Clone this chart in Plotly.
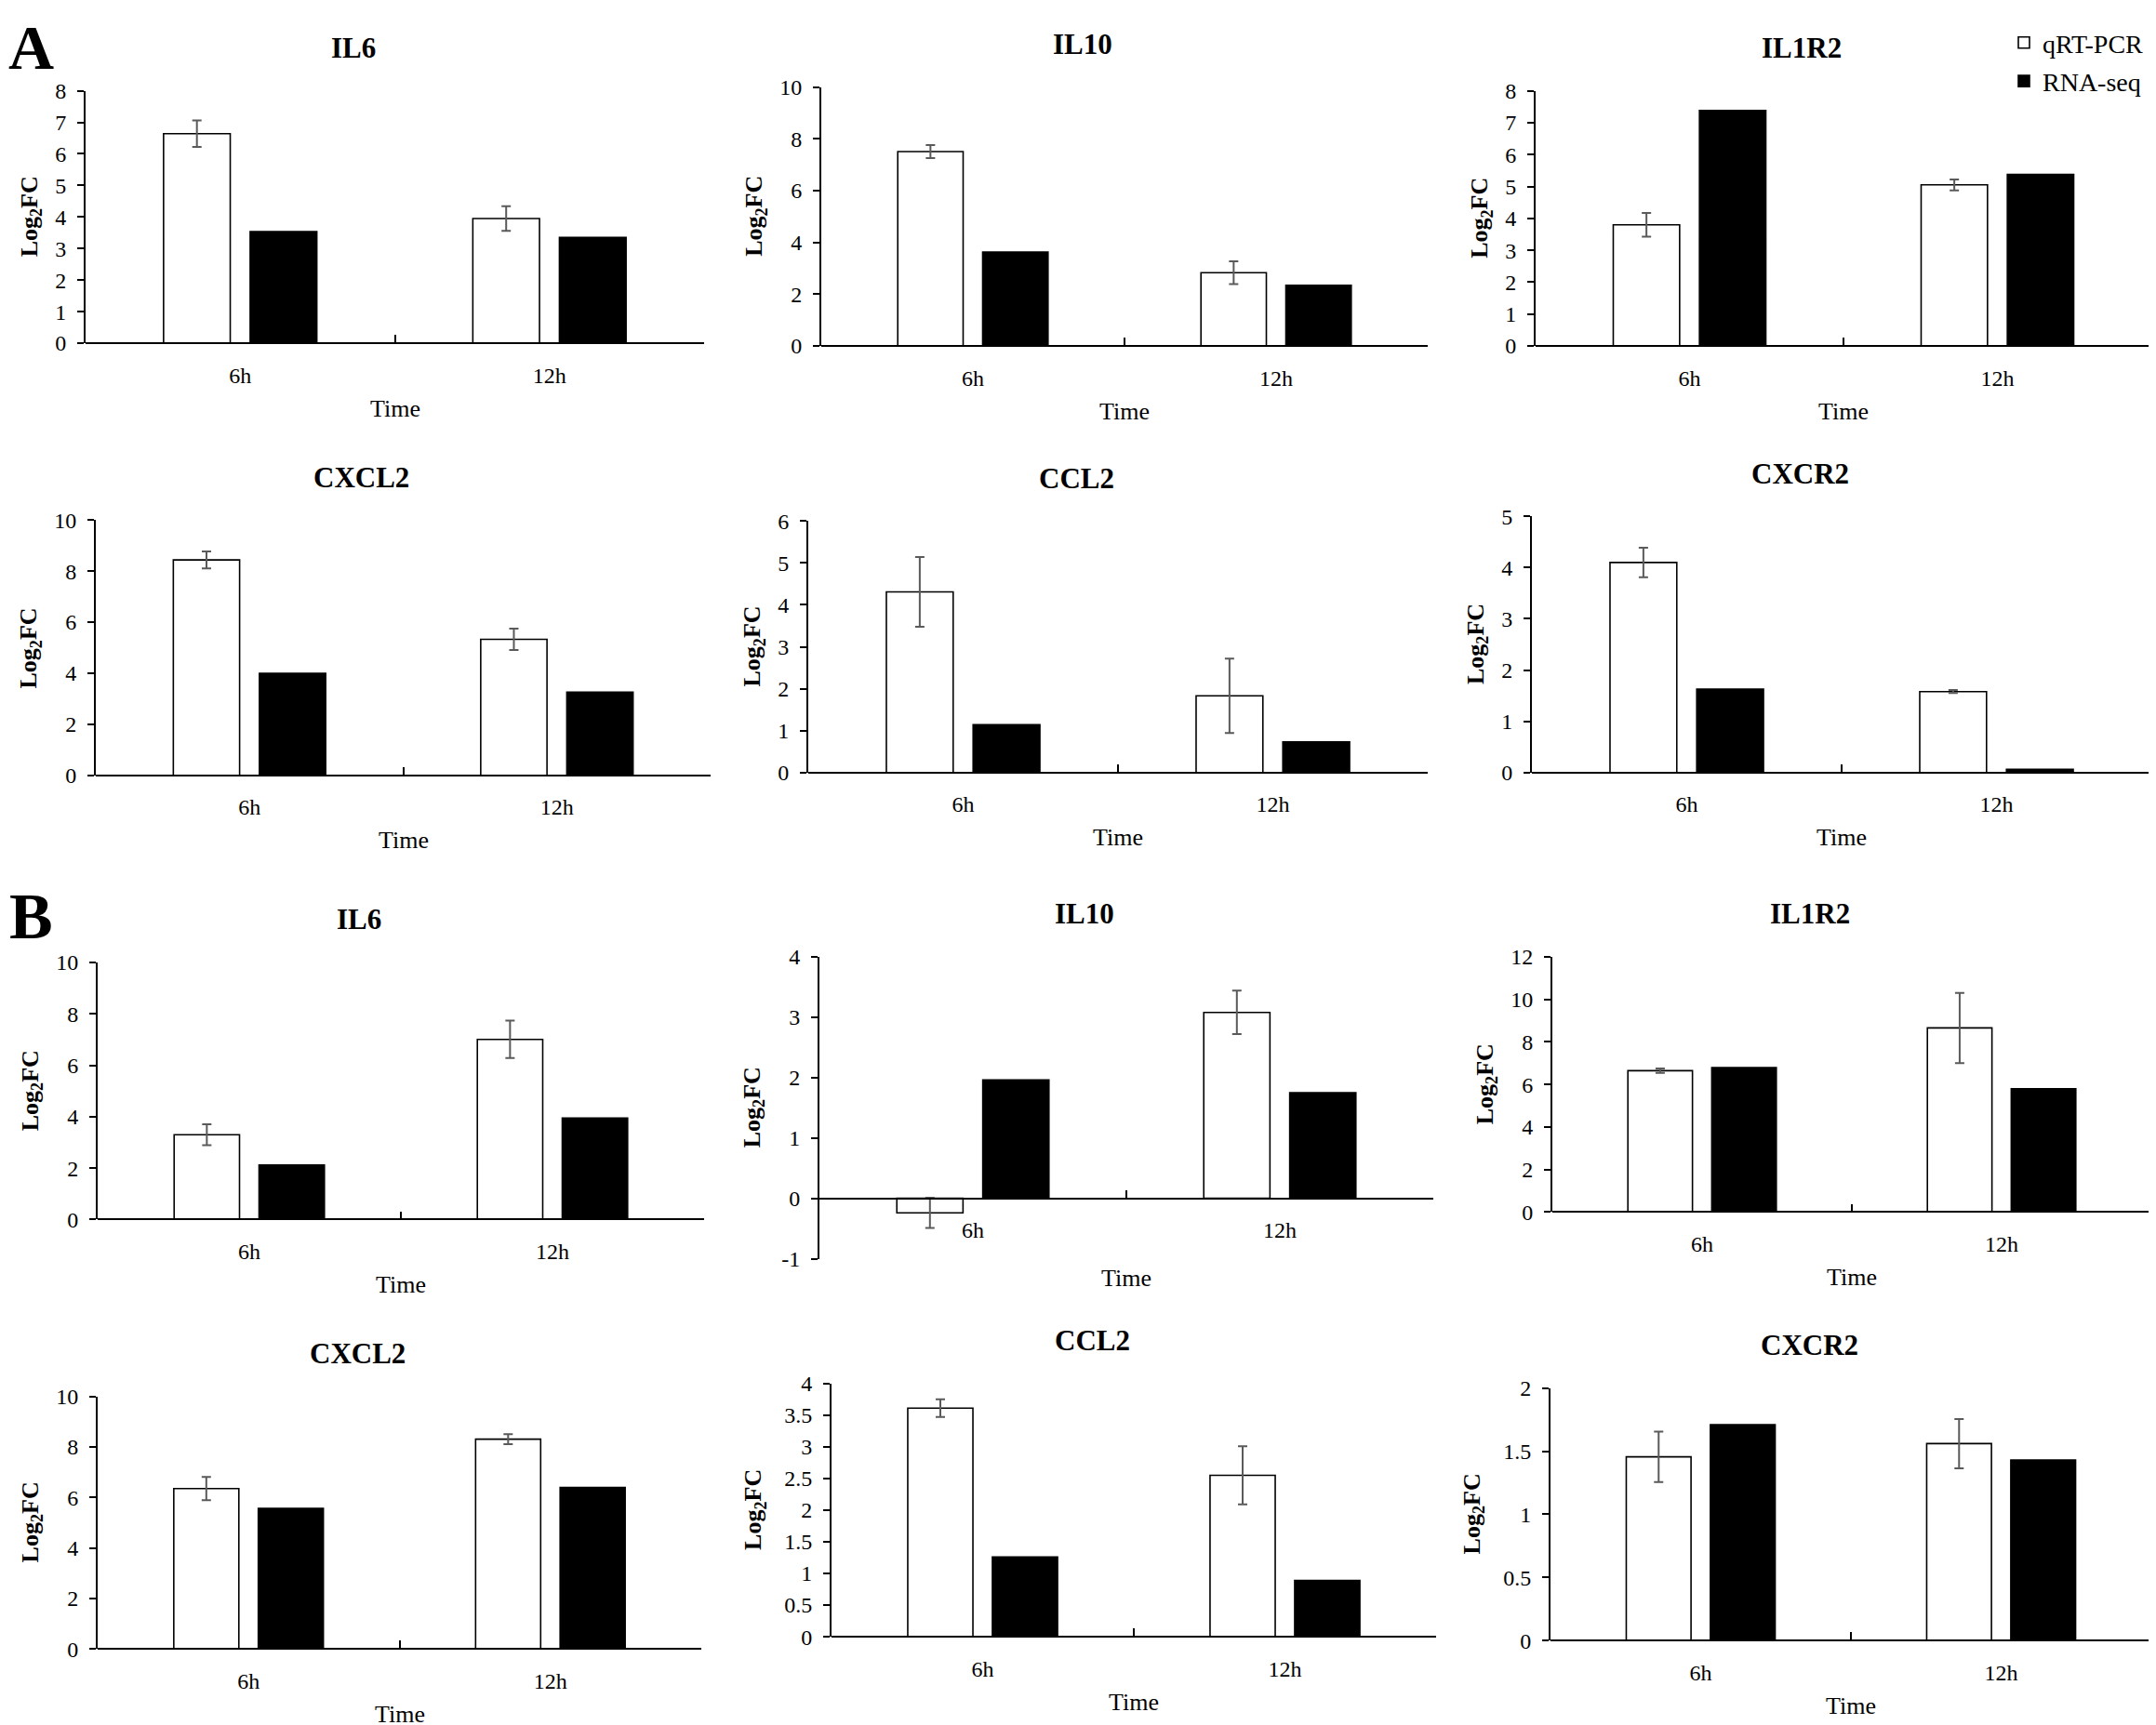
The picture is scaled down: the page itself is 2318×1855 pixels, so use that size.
import plotly.graph_objects as go

W, H = 2318, 1855
FONT = "Liberation Serif"

times = ["6h", "12h"]
series_names = ["qRT-PCR", "RNA-seq"]

# ---- Panel A ----
a_il6_qpcr = [6.64, 3.95]
a_il6_err = [0.42, 0.39]
a_il6_rnaseq = [3.54, 3.35]
a_il6_yticks = [0, 1, 2, 3, 4, 5, 6, 7, 8]

a_il10_qpcr = [7.51, 2.83]
a_il10_err = [0.25, 0.44]
a_il10_rnaseq = [3.63, 2.34]
a_il10_yticks = [0, 2, 4, 6, 8, 10]

a_il1r2_qpcr = [3.80, 5.05]
a_il1r2_err = [0.37, 0.17]
a_il1r2_rnaseq = [7.38, 5.38]
a_il1r2_yticks = [0, 1, 2, 3, 4, 5, 6, 7, 8]

a_cxcl2_qpcr = [8.44, 5.33]
a_cxcl2_err = [0.33, 0.42]
a_cxcl2_rnaseq = [4.00, 3.26]
a_cxcl2_yticks = [0, 2, 4, 6, 8, 10]

a_ccl2_qpcr = [4.31, 1.83]
a_ccl2_err = [0.83, 0.89]
a_ccl2_rnaseq = [1.14, 0.73]
a_ccl2_yticks = [0, 1, 2, 3, 4, 5, 6]

a_cxcr2_qpcr = [4.10, 1.58]
a_cxcr2_err = [0.29, 0.03]
a_cxcr2_rnaseq = [1.63, 0.06]
a_cxcr2_yticks = [0, 1, 2, 3, 4, 5]

# ---- Panel B ----
b_il6_qpcr = [3.30, 7.01]
b_il6_err = [0.41, 0.73]
b_il6_rnaseq = [2.12, 3.95]
b_il6_yticks = [0, 2, 4, 6, 8, 10]

b_il10_qpcr = [-0.24, 3.08]
b_il10_err = [0.25, 0.36]
b_il10_rnaseq = [1.96, 1.75]
b_il10_yticks = [-1, 0, 1, 2, 3, 4]

b_il1r2_qpcr = [6.65, 8.66]
b_il1r2_err = [0.10, 1.65]
b_il1r2_rnaseq = [6.79, 5.80]
b_il1r2_yticks = [0, 2, 4, 6, 8, 10, 12]

b_cxcl2_qpcr = [6.35, 8.31]
b_cxcl2_err = [0.46, 0.20]
b_cxcl2_rnaseq = [5.57, 6.40]
b_cxcl2_yticks = [0, 2, 4, 6, 8, 10]

b_ccl2_qpcr = [3.61, 2.55]
b_ccl2_err = [0.14, 0.46]
b_ccl2_rnaseq = [1.26, 0.89]
b_ccl2_yticks = [0, 0.5, 1, 1.5, 2, 2.5, 3, 3.5, 4]

b_cxcr2_qpcr = [1.455, 1.56]
b_cxcr2_err = [0.20, 0.195]
b_cxcr2_rnaseq = [1.71, 1.43]
b_cxcr2_yticks = [0, 0.5, 1, 1.5, 2]


def Y(p):
    # pixel correction for the vertical placement
    return (p - 21.5) / 0.9845


# layout boxes in pixels: (axis left, axis right, plot top, plot bottom)
panels = [
    ("IL6", a_il6_qpcr, a_il6_err, a_il6_rnaseq, a_il6_yticks, (84, 749, 98, 369)),
    ("IL10", a_il10_qpcr, a_il10_err, a_il10_rnaseq, a_il10_yticks, (875, 1527, 94, 372)),
    ("IL1R2", a_il1r2_qpcr, a_il1r2_err, a_il1r2_rnaseq, a_il1r2_yticks, (1643, 2305, 98, 372)),
    ("CXCL2", a_cxcl2_qpcr, a_cxcl2_err, a_cxcl2_rnaseq, a_cxcl2_yticks, (95, 756, 559, 833)),
    ("CCL2", a_ccl2_qpcr, a_ccl2_err, a_ccl2_rnaseq, a_ccl2_yticks, (861, 1527, 560, 830)),
    ("CXCR2", a_cxcr2_qpcr, a_cxcr2_err, a_cxcr2_rnaseq, a_cxcr2_yticks, (1639, 2305, 555, 830)),
    ("IL6", b_il6_qpcr, b_il6_err, b_il6_rnaseq, b_il6_yticks, (97, 749, 1034, 1310)),
    ("IL10", b_il10_qpcr, b_il10_err, b_il10_rnaseq, b_il10_yticks, (873, 1533, 1028, 1352)),
    ("IL1R2", b_il1r2_qpcr, b_il1r2_err, b_il1r2_rnaseq, b_il1r2_yticks, (1661, 2305, 1028, 1302)),
    ("CXCL2", b_cxcl2_qpcr, b_cxcl2_err, b_cxcl2_rnaseq, b_cxcl2_yticks, (97, 746, 1500, 1771)),
    ("CCL2", b_ccl2_qpcr, b_ccl2_err, b_ccl2_rnaseq, b_ccl2_yticks, (886, 1536, 1486, 1758)),
    ("CXCR2", b_cxcr2_qpcr, b_cxcr2_err, b_cxcr2_rnaseq, b_cxcr2_yticks, (1659, 2305, 1491, 1762)),
]


def fmt(v):
    return ("%g" % v)


fig = go.Figure()
annotations = []
layout_axes = {}

for i, (title, q, e, r, yt, box) in enumerate(panels, start=1):
    x0, x1, top, bottom = box
    ymin, ymax = yt[0], yt[-1]
    zero_px = top + (bottom - top) * (ymax - 0) / (ymax - ymin)
    xa = "x" if i == 1 else f"x{i}"
    ya = "y" if i == 1 else f"y{i}"

    fig.add_trace(go.Bar(
        x=times, y=q, name=series_names[0], legendgroup="q",
        showlegend=(i == 1), xaxis=xa, yaxis=ya,
        marker=dict(color="white", line=dict(color="black", width=1.6)),
        error_y=dict(type="data", array=e, visible=True, color="#5a5a5a",
                     thickness=2, width=5),
    ))
    fig.add_trace(go.Bar(
        x=times, y=r, name=series_names[1], legendgroup="r",
        showlegend=(i == 1), xaxis=xa, yaxis=ya,
        marker=dict(color="black", line=dict(color="black", width=1.6)),
    ))

    kx = "xaxis" if i == 1 else f"xaxis{i}"
    ky = "yaxis" if i == 1 else f"yaxis{i}"
    layout_axes[kx] = dict(
        domain=[x0 / W, x1 / W], anchor="free", position=1 - Y(zero_px) / H,
        type="category", showline=True, linecolor="black", linewidth=1.8,
        ticks="inside", tickson="boundaries", ticklen=8, tickwidth=1.8,
        tickcolor="black", showgrid=False, zeroline=False,
        tickfont=dict(family=FONT, size=24, color="black"),
        ticklabelstandoff=13,
    )
    layout_axes[ky] = dict(
        domain=[1 - Y(bottom) / H, 1 - Y(top) / H], anchor=xa,
        range=[ymin, ymax], tickvals=yt, ticktext=[fmt(v) for v in yt],
        showline=True, linecolor="black", linewidth=1.8,
        ticks="outside", ticklen=7, tickwidth=1.8, tickcolor="black",
        showgrid=False, zeroline=False,
        tickfont=dict(family=FONT, size=24, color="black"),
        ticklabelstandoff=7,
    )

    # panel title
    annotations.append(dict(
        text=f"<b>{title}</b>", x=((x0 + x1) / 2 - 45) / W, y=1 - Y(top - 46) / H,
        xref="paper", yref="paper", xanchor="center", yanchor="middle",
        showarrow=False, font=dict(family=FONT, size=31, color="black")))
    # y-axis title
    nchar = max(len(fmt(v)) for v in yt)
    annotations.append(dict(
        text="<b>Log<sub>2</sub>FC</b>", x=(x0 - (47 + 12 * nchar)) / W,
        y=1 - Y((top + bottom) / 2) / H, xref="paper", yref="paper",
        xanchor="center", yanchor="middle", textangle=-90, showarrow=False,
        font=dict(family=FONT, size=26, color="black")))
    # x-axis title
    ty = max(bottom + 21, zero_px + 70)
    annotations.append(dict(
        text="Time", x=((x0 + x1) / 2) / W, y=1 - Y(ty) / H,
        xref="paper", yref="paper", xanchor="center", yanchor="middle",
        showarrow=False, font=dict(family=FONT, size=26, color="black")))

# panel letters
annotations.append(dict(
    text="<b>A</b>", x=25 / W, y=1 + 10 / H, xref="paper", yref="paper",
    xanchor="center", yanchor="top", showarrow=False,
    font=dict(family=FONT, size=68, color="black")))
annotations.append(dict(
    text="<b>B</b>", x=25 / W, y=1 - Y(985) / H, xref="paper", yref="paper",
    xanchor="center", yanchor="middle", showarrow=False,
    font=dict(family=FONT, size=70, color="black")))

fig.update_layout(
    width=W, height=H, margin=dict(l=0, r=0, t=0, b=0),
    paper_bgcolor="white", plot_bgcolor="white",
    barmode="group", bargap=0.44, bargroupgap=0.23,
    font=dict(family=FONT, color="black"),
    showlegend=True,
    legend=dict(x=2302 / W, y=1, xanchor="right", yanchor="top",
                font=dict(family=FONT, size=28, color="black"),
                bgcolor="rgba(0,0,0,0)", traceorder="grouped",
                tracegroupgap=2, itemwidth=30),
    annotations=annotations,
    **layout_axes,
)

fig.write_html("out.html")
